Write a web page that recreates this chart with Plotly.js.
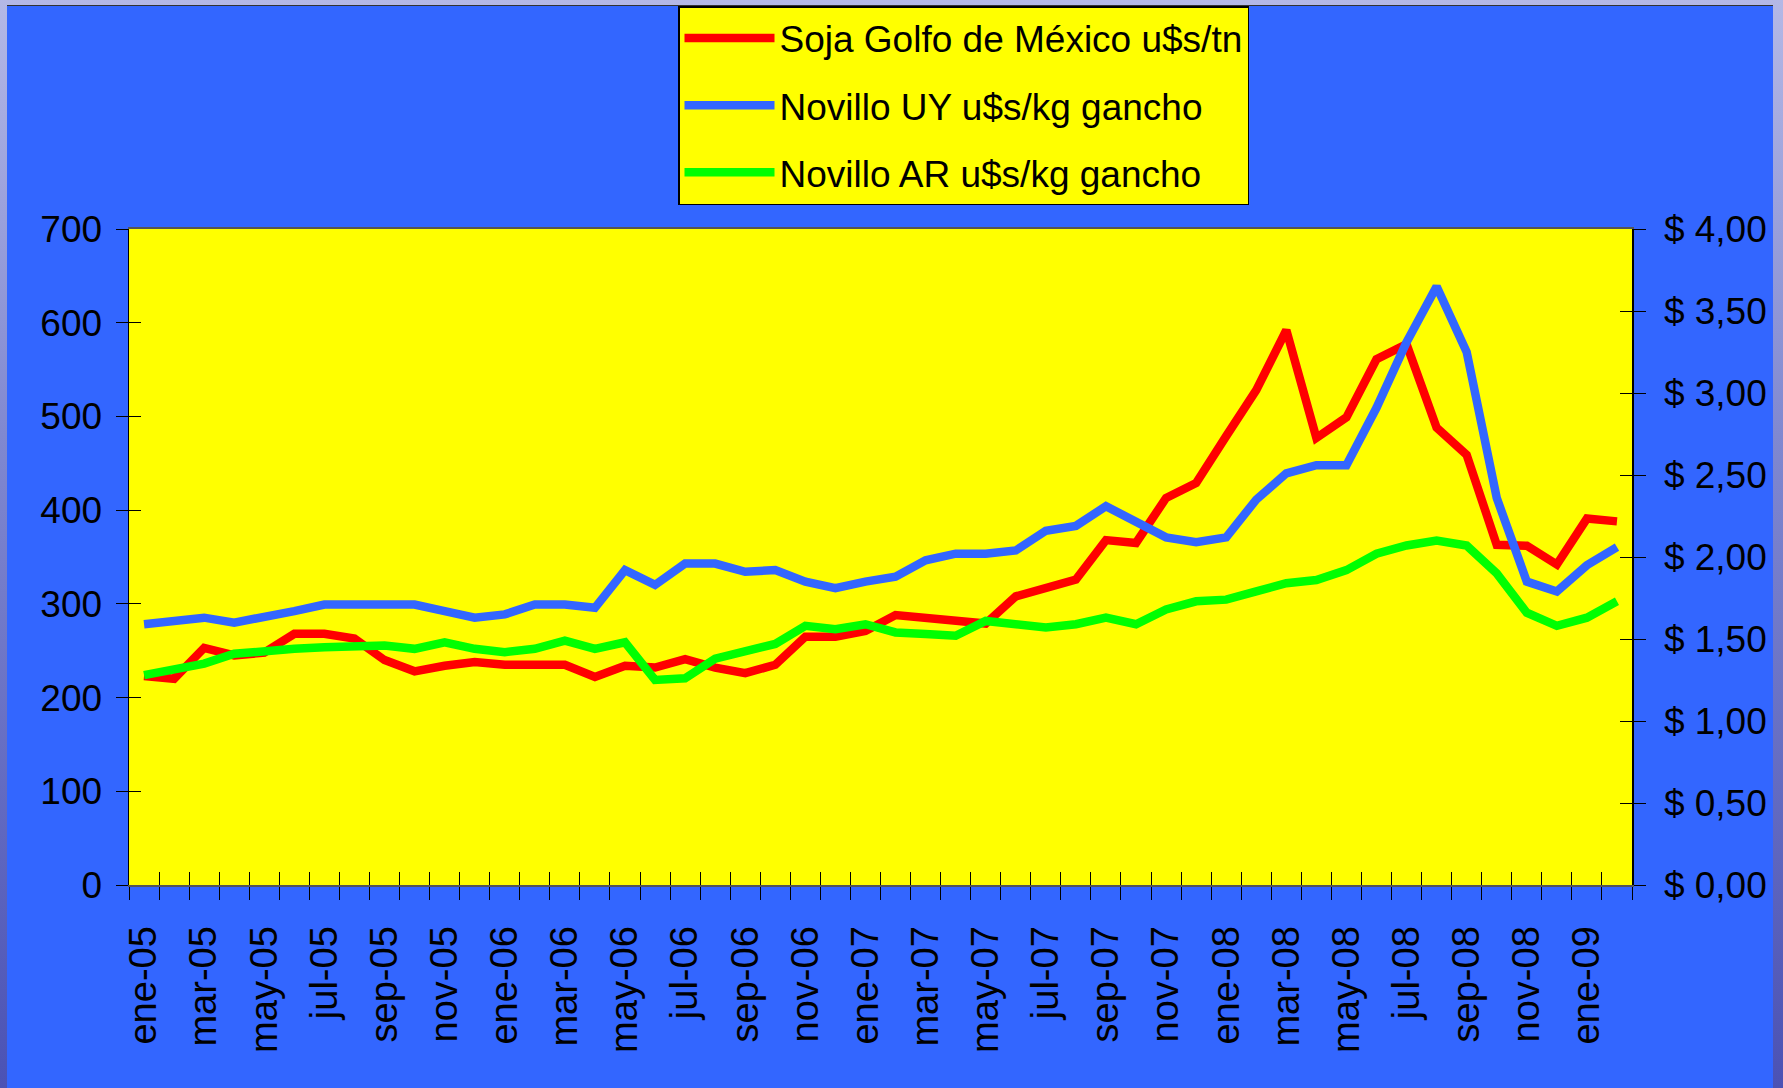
<!DOCTYPE html>
<html>
<head>
<meta charset="utf-8">
<script src="https://cdn.plot.ly/plotly-3.0.1.min.js"></script>
<style>
  html, body { margin: 0; padding: 0; }
  body {
    width: 1783px; height: 1088px; overflow: hidden; position: relative;
    background: linear-gradient(to bottom, #b4b8e6 0%, #8088d0 40%, #4b52b4 100%);
  }
  #chart { position: absolute; left: 7px; top: 6px; width: 1766px; height: 1082px;
           box-shadow: 0 -1px 0 #333; }
</style>
</head>
<body>
<div id="chart"></div>
<script>
// Categories (months)
const months = [
  "ene-05","feb-05","mar-05","abr-05","may-05","jun-05","jul-05","ago-05","sep-05","oct-05","nov-05","dic-05",
  "ene-06","feb-06","mar-06","abr-06","may-06","jun-06","jul-06","ago-06","sep-06","oct-06","nov-06","dic-06",
  "ene-07","feb-07","mar-07","abr-07","may-07","jun-07","jul-07","ago-07","sep-07","oct-07","nov-07","dic-07",
  "ene-08","feb-08","mar-08","abr-08","may-08","jun-08","jul-08","ago-08","sep-08","oct-08","nov-08","dic-08",
  "ene-09","feb-09"
];

// Series values
const sojaGolfo = [223,220,253,245,248,268,268,263,240,228,234,238,235,235,235,222,234,232,241,232,
                   226,235,265,265,271,288,285,280,279,308,316,326,368,365,413,429,479,528,592,477,
                   499,561,577,488,459,363,362,342,391,388];
const novilloUY = [1.59,1.61,1.63,1.60,1.63,1.67,1.71,1.71,1.71,1.71,1.67,1.63,1.65,1.71,1.71,1.69,1.92,1.83,1.96,1.96,
                   1.91,1.92,1.85,1.81,1.85,1.88,1.98,2.02,2.02,2.04,2.16,2.19,2.31,2.22,2.12,2.09,2.12,2.35,2.51,2.56,
                   2.56,2.91,3.31,3.65,3.25,2.36,1.85,1.79,1.95,2.06];
const novilloAR = [1.28,1.31,1.35,1.41,1.43,1.44,1.45,1.45,1.46,1.44,1.48,1.44,1.42,1.44,1.49,1.44,1.48,1.25,1.26,1.38,
                   1.42,1.47,1.58,1.56,1.59,1.54,1.53,1.52,1.61,1.59,1.57,1.59,1.63,1.59,1.68,1.73,1.74,1.79,1.84,1.86,
                   1.92,2.02,2.07,2.10,2.07,1.90,1.66,1.58,1.63,1.73];

// Tick labels: every second month
const tickLabels = months.map((m, i) => (i % 2 === 0 ? m : ""));

const seriesNames = ["Soja Golfo de México u$s/tn", "Novillo UY u$s/kg gancho", "Novillo AR u$s/kg gancho"];

const fontFam = "'Liberation Sans', Arial, sans-serif";

const traces = [
  { x: months, y: sojaGolfo, name: seriesNames[0], type: 'scatter', mode: 'lines',
    xaxis: 'x', yaxis: 'y', line: { color: '#FF0000', width: 8.5 }, legendgroup: 'a' },
  { x: months, y: novilloUY, name: seriesNames[1], type: 'scatter', mode: 'lines',
    xaxis: 'x2', yaxis: 'y2', line: { color: '#3366FF', width: 8.5 }, legendgroup: 'b' },
  { x: months, y: novilloAR, name: seriesNames[2], type: 'scatter', mode: 'lines',
    xaxis: 'x2', yaxis: 'y2', line: { color: '#00FF00', width: 8.5 }, legendgroup: 'c' },
  // helpers carrying the inner halves of the y tick marks
  { x: months, y: sojaGolfo, type: 'scatter', mode: 'none', xaxis: 'x', yaxis: 'y3',
    showlegend: false, hoverinfo: 'skip' },
  { x: months, y: novilloUY, type: 'scatter', mode: 'none', xaxis: 'x', yaxis: 'y4',
    showlegend: false, hoverinfo: 'skip' }
];

const common = { showgrid: false, zeroline: false, fixedrange: true, automargin: false };

const layout = {
  width: 1766, height: 1082,
  paper_bgcolor: '#3366FF', plot_bgcolor: '#FFFF00',
  margin: { l: 121.5, r: 141, t: 223, b: 202.7, pad: 0, autoexpand: false },
  separators: ',.',
  hovermode: false,
  showlegend: true,
  legend: {
    xref: 'container', yref: 'container',
    x: 671 / 1766, xanchor: 'left', y: 1, yanchor: 'top',
    bgcolor: '#FFFF00', bordercolor: '#000000', borderwidth: 1.5,
    font: { family: fontFam, size: 37, color: '#000000' },
    itemwidth: 90, traceorder: 'grouped', tracegroupgap: 16
  },
  xaxis: Object.assign({}, common, {
    type: 'category', range: [-0.5, 49.5],
    tickmode: 'array', tickvals: months, ticktext: tickLabels,
    tickson: 'boundaries', ticks: 'outside', ticklen: 13, tickwidth: 1, tickcolor: '#000',
    tickangle: -90, ticklabelstandoff: 24,
    tickfont: { family: fontFam, size: 38, color: '#000' },
    showline: true, linecolor: '#555555', linewidth: 2, mirror: true
  }),
  xaxis2: Object.assign({}, common, {
    type: 'category', overlaying: 'x', range: [-0.5, 49.5],
    tickmode: 'array', tickvals: months, tickson: 'boundaries',
    ticks: 'inside', ticklen: 13, tickwidth: 1, tickcolor: '#000',
    showticklabels: false, showline: false
  }),
  yaxis: Object.assign({}, common, {
    range: [0, 700], dtick: 100, tick0: 0,
    ticks: 'outside', ticklen: 12, tickwidth: 1, tickcolor: '#000',
    ticklabelstandoff: 6,
    tickfont: { family: fontFam, size: 37, color: '#000' },
    showline: true, linecolor: '#000', linewidth: 1.5
  }),
  yaxis2: Object.assign({}, common, {
    overlaying: 'y', side: 'right', range: [0, 4], dtick: 0.5, tick0: 0,
    tickprefix: '$ ', tickformat: '.2f',
    ticks: 'outside', ticklen: 12, tickwidth: 1, tickcolor: '#000',
    ticklabelstandoff: 11,
    tickfont: { family: fontFam, size: 37, color: '#000' },
    showline: true, linecolor: '#000', linewidth: 1.5
  }),
  yaxis3: Object.assign({}, common, {
    overlaying: 'y', side: 'left', range: [0, 700], dtick: 100, tick0: 0,
    ticks: 'inside', ticklen: 12, tickwidth: 1, tickcolor: '#000',
    showticklabels: false, showline: false
  }),
  yaxis4: Object.assign({}, common, {
    overlaying: 'y', side: 'right', range: [0, 4], dtick: 0.5, tick0: 0,
    ticks: 'inside', ticklen: 12, tickwidth: 1, tickcolor: '#000',
    showticklabels: false, showline: false
  })
};

Plotly.newPlot('chart', traces, layout, { staticPlot: true, displayModeBar: false });
</script>
</body>
</html>
